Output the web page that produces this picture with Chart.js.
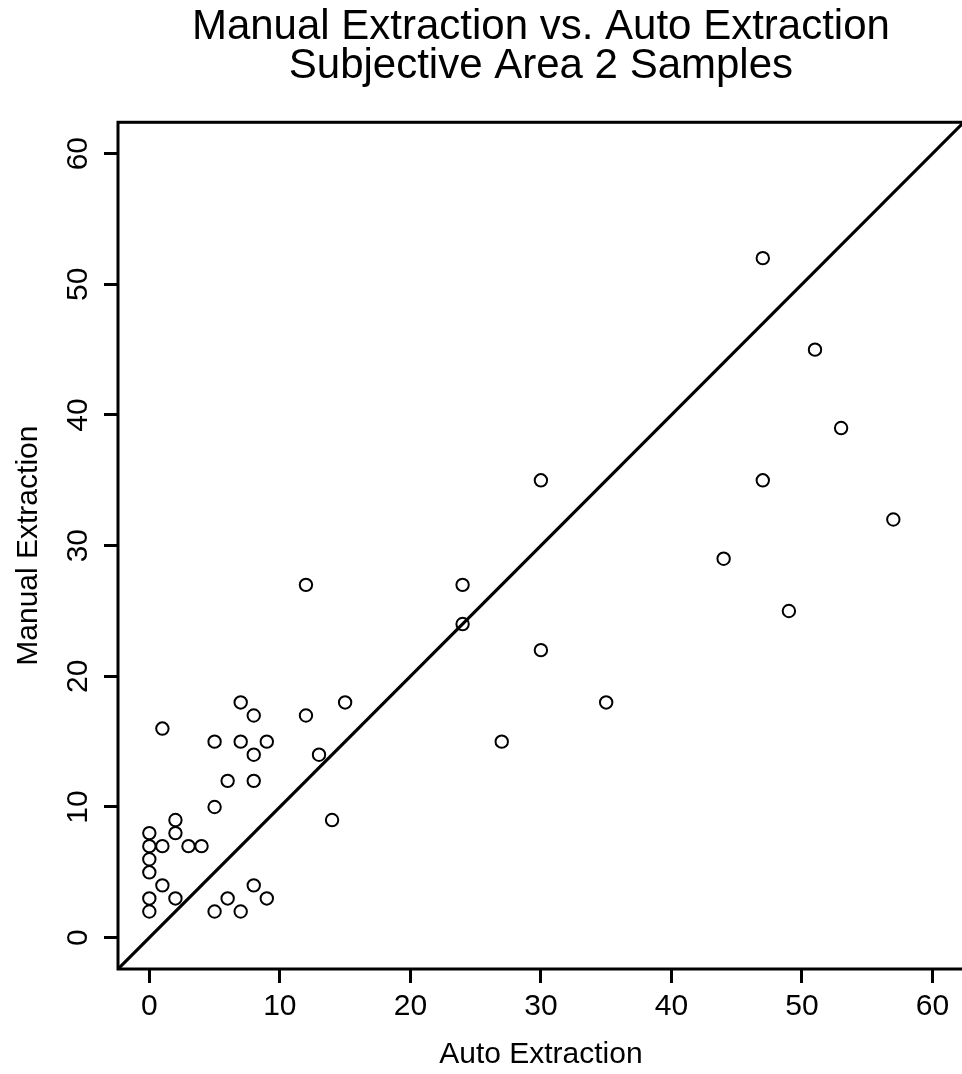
<!DOCTYPE html>
<html>
<head>
<meta charset="utf-8">
<script src="https://cdn.jsdelivr.net/npm/chart.js@4/dist/chart.umd.min.js"></script>
<style>
html,body{margin:0;padding:0;background:#fff;overflow:hidden;width:962px;height:1074px}
#wrap{position:absolute;left:0;top:0;width:972px;height:1074px}
canvas{display:block}
</style>
</head>
<body>
<div id="wrap"><canvas id="c" width="972" height="1074"></canvas></div>
<script>
const titleLines = ['Manual Extraction vs. Auto Extraction', 'Subjective Area 2 Samples'];
const xAxisTitle = 'Auto Extraction';
const yAxisTitle = 'Manual Extraction';
const autoExtraction   = [0,0,0,0,0,0,1,1,1,2,2,2,3,4,5,5,5,6,6,7,7,7,8,8,8,8,9,9,12,12,13,14,15,24,24,27,30,30,35,44,47,47,49,51,53,57];
const manualExtraction = [8,7,6,5,3,2,16,7,4,9,8,3,7,7,15,10,2,12,3,18,15,2,17,14,12,4,15,3,27,17,14,9,18,27,24,15,35,22,18,29,52,35,25,45,39,32];
const xTickValues = [0,10,20,30,40,50,60];
const yTickValues = [0,10,20,30,40,50,60];
const axisMin = -2.4;
const axisMax = 62.4;
const identityLine = [-10, 70];

const FONT = "'Liberation Sans', Arial, Helvetica, sans-serif";

const points = autoExtraction.map((x, i) => ({x: x, y: manualExtraction[i]}));
const linePts = identityLine.map(v => ({x: v, y: v}));

const framePlugin = {
  id: 'frame',
  afterDatasetsDraw(chart) {
    const {ctx, chartArea: a} = chart;
    ctx.save();
    ctx.strokeStyle = '#000';
    ctx.lineWidth = 3;
    ctx.strokeRect(a.left, a.top, a.right - a.left, a.bottom - a.top);
    ctx.restore();
  }
};

new Chart(document.getElementById('c'), {
  type: 'scatter',
  data: {
    datasets: [
      {
        type: 'line',
        data: linePts,
        borderColor: '#000',
        borderWidth: 3.2,
        pointRadius: 0,
        fill: false,
        tension: 0
      },
      {
        type: 'scatter',
        data: points,
        pointStyle: 'circle',
        pointRadius: 6.2,
        borderWidth: 2,
        borderColor: '#000',
        backgroundColor: 'rgba(0,0,0,0)'
      }
    ]
  },
  options: {
    responsive: false,
    devicePixelRatio: 1,
    animation: false,
    layout: {padding: {left: 0, right: 6, top: 0, bottom: 0}},
    plugins: {
      legend: {display: false},
      tooltip: {enabled: false},
      title: {
        display: true,
        text: titleLines,
        fullSize: false,
        color: '#000',
        font: {family: FONT, size: 42, weight: 'normal', lineHeight: 0.92},
        padding: {top: 8, bottom: 37}
      }
    },
    scales: {
      x: {
        type: 'linear',
        position: 'bottom',
        min: axisMin,
        max: axisMax,
        afterBuildTicks: s => { s.ticks = xTickValues.map(v => ({value: v})); },
        afterFit: s => { s.height = 105; },
        grid: {display: true, drawOnChartArea: false, drawTicks: true, tickLength: 14, tickWidth: 3, tickColor: '#000'},
        border: {display: false},
        ticks: {color: '#000', font: {family: FONT, size: 30}, padding: 6, maxRotation: 0, minRotation: 0, autoSkip: false},
        title: {display: true, text: xAxisTitle, color: '#000', font: {family: FONT, size: 30, lineHeight: 1.2}, padding: {top: 0, bottom: 1}}
      },
      y: {
        type: 'linear',
        position: 'left',
        min: axisMin,
        max: axisMax,
        afterBuildTicks: s => { s.ticks = yTickValues.map(v => ({value: v})); },
        afterFit: s => { s.width = 118; },
        grid: {display: true, drawOnChartArea: false, drawTicks: true, tickLength: 14, tickWidth: 3, tickColor: '#000'},
        border: {display: false},
        ticks: {color: '#000', font: {family: FONT, size: 30}, padding: 9, minRotation: 90, maxRotation: 90, crossAlign: 'center', autoSkip: false},
        title: {display: true, text: yAxisTitle, color: '#000', font: {family: FONT, size: 30, lineHeight: 1.2}, padding: {top: 11, bottom: 0}}
      }
    }
  },
  plugins: [framePlugin]
});
</script>
</body>
</html>
